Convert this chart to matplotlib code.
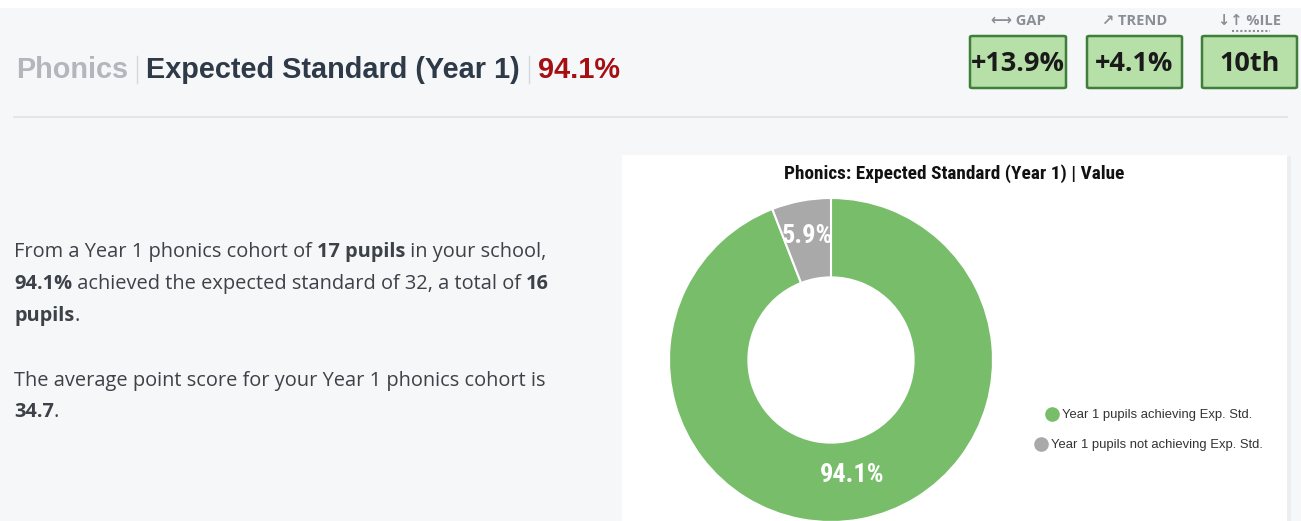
import matplotlib.pyplot as plt
from matplotlib.patches import Rectangle, FancyBboxPatch

W, H = 1301, 521

# data
title_parts = ['Phonics', 'Expected Standard (Year 1)', '94.1%']
stat_names = ['GAP', 'TREND', '%ILE']
stat_icons = ['\u27f7', '\u2197', '\u2193\u2191']
stat_values = ['+13.9%', '+4.1%', '10th']
slice_labels = ['Year 1 pupils achieving Exp. Std.', 'Year 1 pupils not achieving Exp. Std.']
slice_values = [94.1, 5.9]
slice_colors = ['#78bd69', '#a9a9a9']
chart_title = 'Phonics: Expected Standard (Year 1) | Value'
paragraph = [
    [('From a Year 1 phonics cohort of ', False), ('17 pupils', True), (' in your school,', False)],
    [('94.1%', True), (' achieved the expected standard of 32, a total of ', False), ('16', True)],
    [('pupils', True), ('.', False)],
    [],
    [('The average point score for your Year 1 phonics cohort is', False)],
    [('34.7', True), ('.', False)],
]


def fx(x):
    return x / W


def fy(y):
    return 1 - y / H


fig = plt.figure(figsize=(W / 100, H / 100), dpi=100)
fig.patch.set_facecolor('#f6f7f9')
renderer = fig.canvas.get_renderer()

# white strip at the very top
fig.patches.append(Rectangle((0, fy(8)), 1, 8 / H, transform=fig.transFigure,
                             facecolor='white', edgecolor='none', zorder=-2))

# header title with separators
x = 16
head_colors = ['#b3b7bd', '#2e3a48', '#a50f12']
for i, part in enumerate(title_parts):
    t = fig.text(fx(x), fy(70), part, fontsize=20.8, fontweight='bold', color=head_colors[i],
                 family=['Liberation Sans', 'DejaVu Sans'], va='center', ha='left')
    w = t.get_window_extent(renderer).width
    x += w
    if i < len(title_parts) - 1:
        x += 9
        fig.add_artist(plt.Line2D([fx(x), fx(x)], [fy(56), fy(83)], color='#d5d8dc', lw=1,
                                  transform=fig.transFigure))
        x += 9

# divider line
fig.add_artist(plt.Line2D([fx(14), fx(1287)], [fy(117), fy(117)], color='#dfe2e6', lw=1.2,
                          transform=fig.transFigure))

# stat boxes
box_left = [970, 1087, 1202]
box_w = [96, 95, 95]
for i in range(3):
    x0 = box_left[i]
    fig.patches.append(FancyBboxPatch((fx(x0), fy(88)), box_w[i] / W, 52 / H,
                                      boxstyle='round,pad=0,rounding_size=0.002',
                                      transform=fig.transFigure, facecolor='#b7dfa8',
                                      edgecolor='#3f7e3b', lw=1.8))
    fig.text(fx(x0 + box_w[i] / 2), fy(64), stat_values[i], fontsize=19.5, fontweight='bold',
             color='#1a1a1a', ha='center', va='center', family=['Open Sans', 'DejaVu Sans'])
    fig.text(fx(x0 + box_w[i] / 2), fy(21), stat_icons[i] + ' ' + stat_names[i], fontsize=10.5,
             fontweight='bold', color='#8a8f96', ha='center', va='center',
             family=['Open Sans', 'DejaVu Sans'])
fig.add_artist(plt.Line2D([fx(1232), fx(1270)], [fy(31), fy(31)], color='#8a8f96', lw=1.5,
                          ls=(0, (1, 1)), transform=fig.transFigure))

# paragraph with bold runs
line_y = [252, 284, 316, 348, 381, 412]
for li, runs in enumerate(paragraph):
    x = 14
    for txt, bold in runs:
        t = fig.text(fx(x), fy(line_y[li]), txt, fontsize=14.4,
                     fontweight='bold' if bold else 'normal', color='#3d4248',
                     family=['Open Sans', 'DejaVu Sans'], va='center', ha='left')
        x += t.get_window_extent(renderer).width

# card with a faint shadow
fig.patches.append(Rectangle((fx(624), fy(521)), 667 / W, 365 / H, transform=fig.transFigure,
                             facecolor='#eceef0', edgecolor='none', zorder=-1))
fig.patches.append(Rectangle((fx(622), fy(521)), 665 / W, 366 / H, transform=fig.transFigure,
                             facecolor='white', edgecolor='none', zorder=-1))

fig.text(fx(954), fy(174), chart_title, fontsize=13.9, fontweight='bold', color='#111111',
         ha='center', va='center', family=['Roboto Condensed', 'Roboto', 'DejaVu Sans'])

# donut
R = 162
cx, cy = 831, 360
ax = fig.add_axes([fx(cx - R), fy(cy + R), 2 * R / W, 2 * R / H])
ax.set_facecolor('none')
wedges, texts, autotexts = ax.pie(slice_values, colors=slice_colors, startangle=90,
                                  counterclock=False, radius=1, autopct='%.1f%%',
                                  pctdistance=0.72,
                                  wedgeprops=dict(width=0.49, edgecolor='white', linewidth=1.5),
                                  textprops=dict(color='white', fontsize=19, fontweight='bold',
                                                 family=['Roboto Condensed', 'Roboto',
                                                         'DejaVu Sans']))
px, py = autotexts[1].get_position()
autotexts[1].set_position((px * 1.08, py * 1.08))
ax.set_xlim(-1, 1)
ax.set_ylim(-1, 1)
ax.set_aspect('equal')
ax.axis('off')

# legend, centered items
leg_cx = 1157
leg_y = [415, 445]
for i, lab in enumerate(slice_labels):
    t = fig.text(fx(leg_cx), fy(leg_y[i]), lab, fontsize=9.4, color='#333333', ha='center',
                 va='center', family=['Liberation Sans', 'DejaVu Sans'])
    w = t.get_window_extent(renderer).width
    fig.add_artist(plt.Line2D([fx(leg_cx - w / 2 - 10)], [fy(leg_y[i] - 1)], marker='o',
                              markersize=9.5, color=slice_colors[i], ls='none',
                              transform=fig.transFigure))

fig.savefig('out.png', dpi=100, facecolor=fig.get_facecolor())
